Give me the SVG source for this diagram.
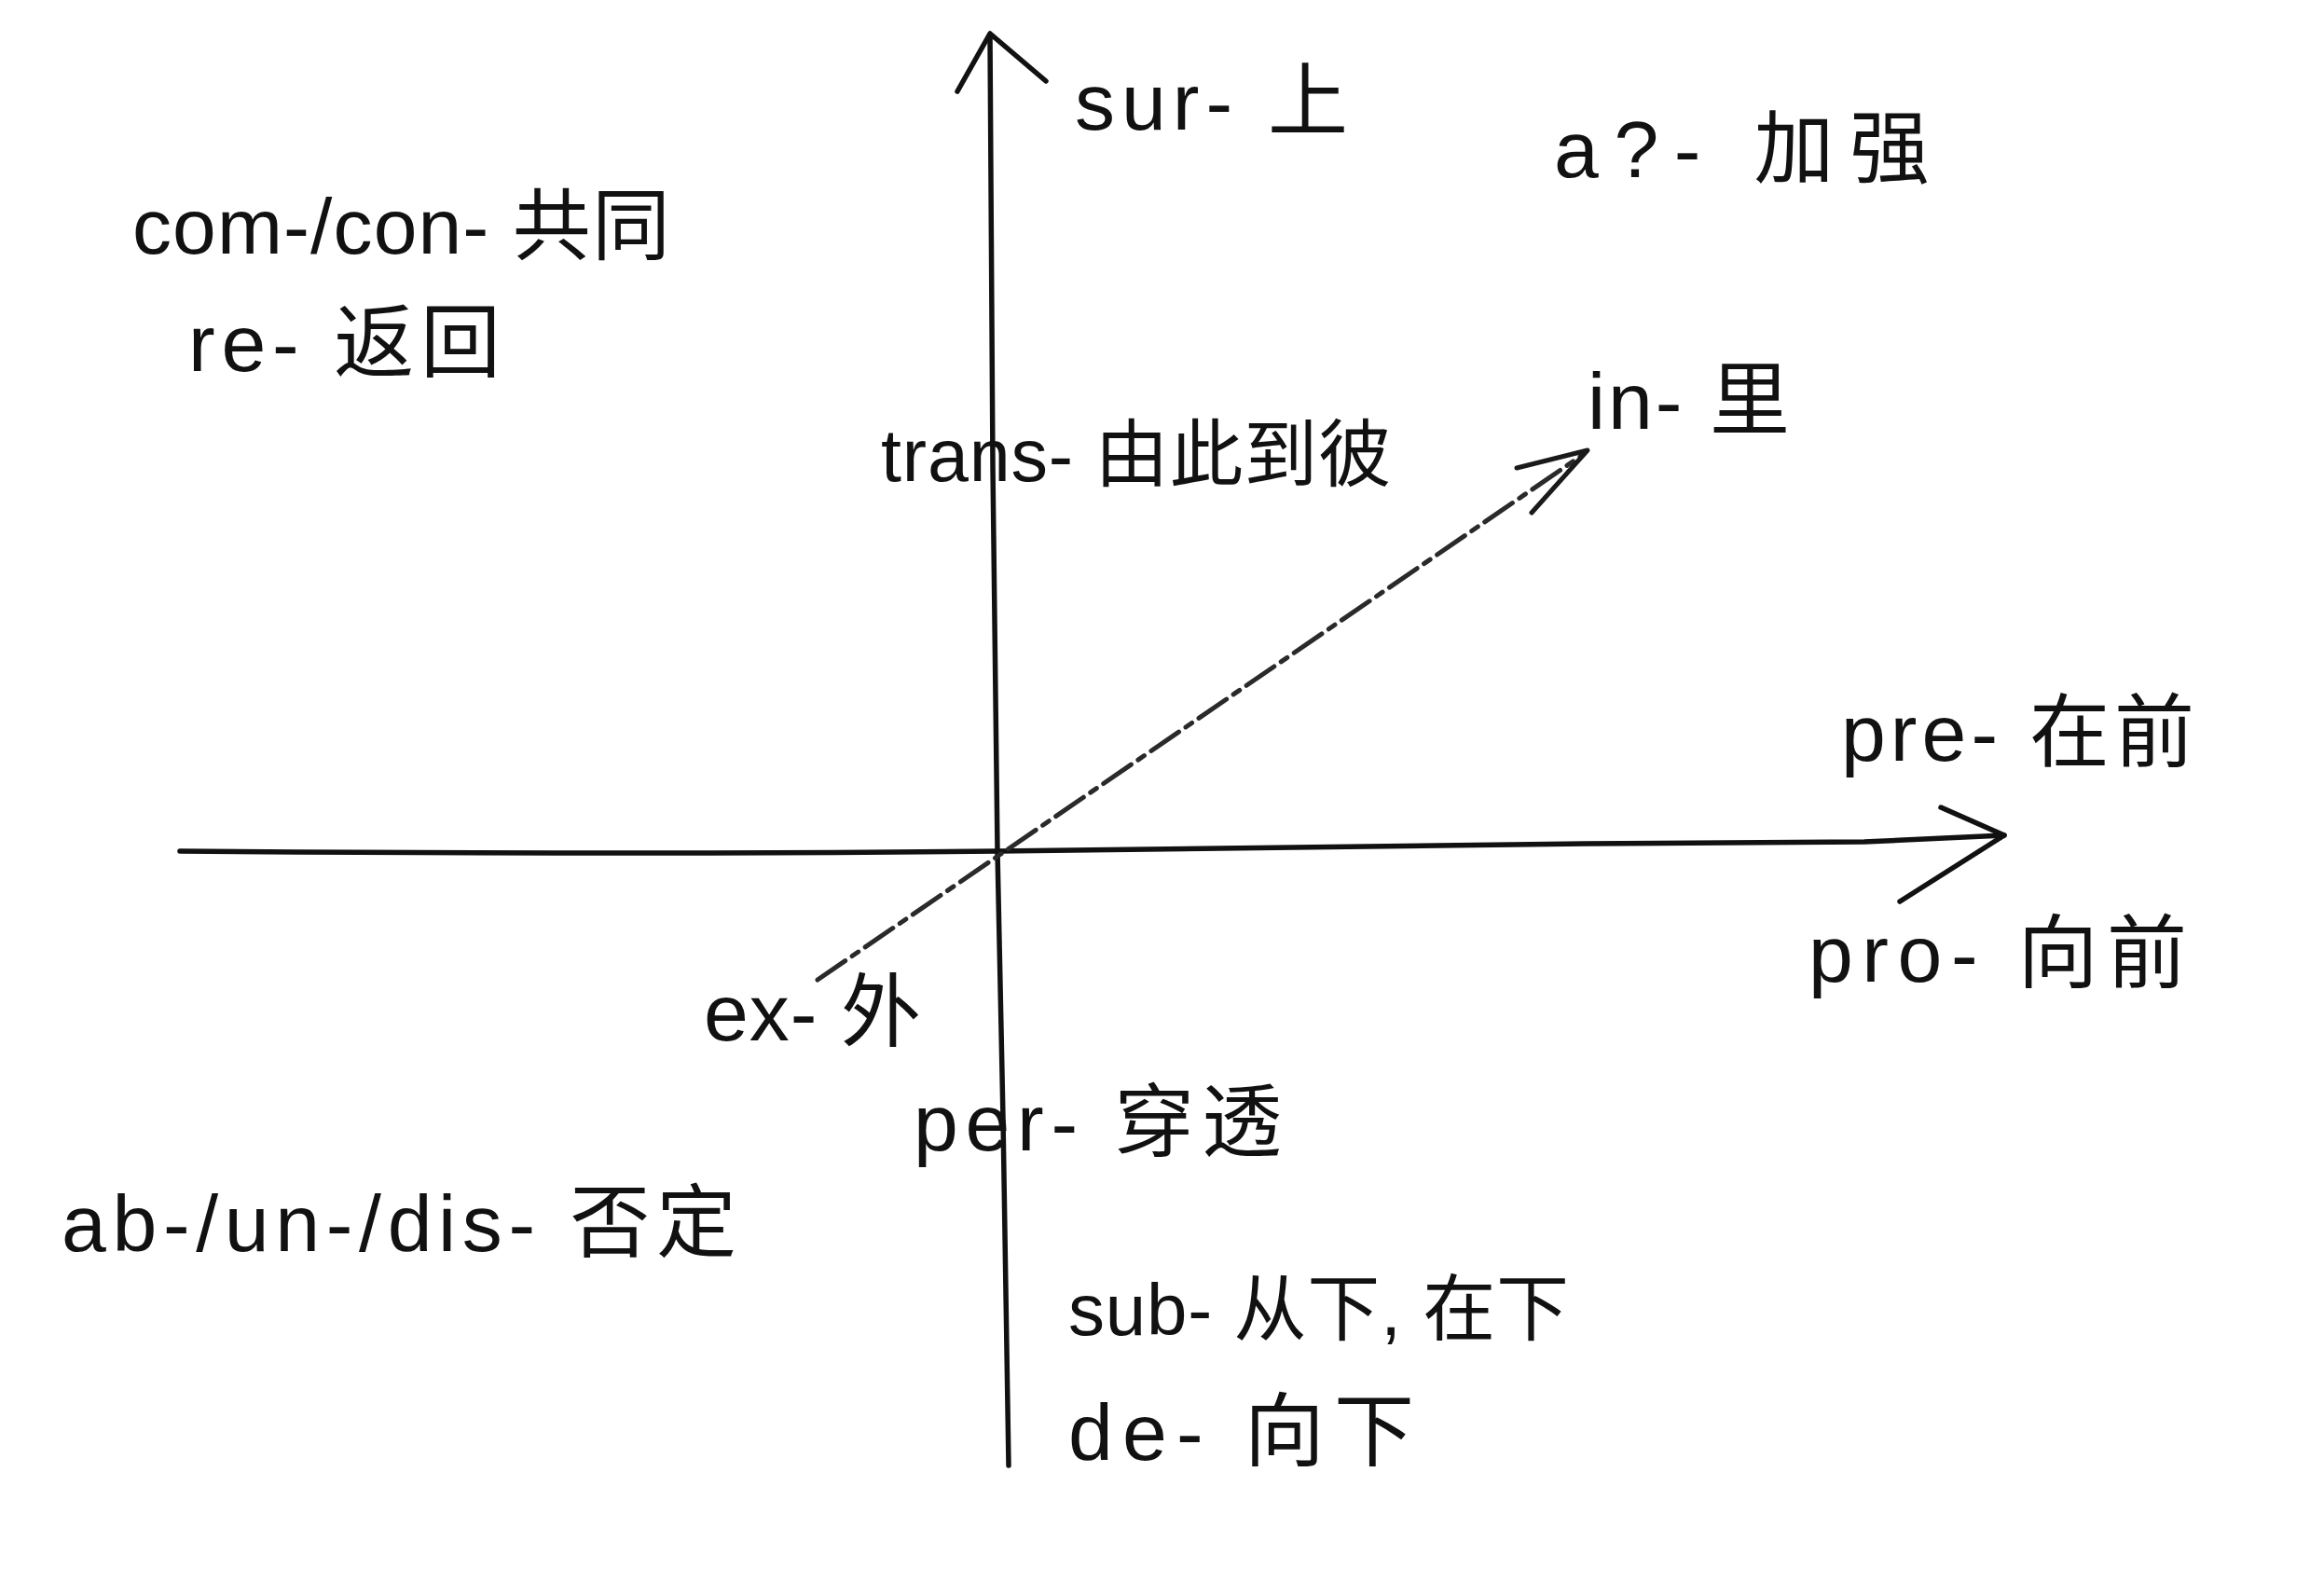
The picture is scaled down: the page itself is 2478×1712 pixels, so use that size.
<svg xmlns="http://www.w3.org/2000/svg" width="2478" height="1712" viewBox="0 0 2478 1712">
<style>
.lbl{font-family:"Liberation Sans","Noto Sans CJK SC",sans-serif;font-size:86px;fill:#111;}
.axis{fill:none;stroke:#111;stroke-width:5.5;stroke-linecap:round;stroke-linejoin:round;}
.dash{fill:none;stroke:#2a2a2a;stroke-width:5;stroke-dasharray:36 9 8 9;stroke-linecap:round;}
.head{fill:none;stroke:#1a1a1a;stroke-width:5;stroke-linecap:round;stroke-linejoin:round;}
</style>
<rect width="2478" height="1712" fill="#ffffff"/>
<g id="connectors">
<path class="axis" d="M1062,38 L1065,500 L1070,913 L1076,1200 L1082,1572"/>
<path class="axis" d="M1027,98 L1062,36 L1122,87"/>
<path class="axis" d="M193,913 C600,916 900,915 1070,913 L1700,905 L2000,903 L2150,896"/>
<path class="axis" d="M2082,866 L2150,896 L2038,967"/>
<path class="dash" d="M877,1051 L1699,487"/>
<path class="head" d="M1627,502 L1703,483 L1643,550"/>
</g>
<g id="node-sur"><text class="lbl" x="1153" y="139" textLength="293" lengthAdjust="spacing">sur- 上</text></g>
<g id="node-a"><text class="lbl" x="1667" y="190" textLength="403" lengthAdjust="spacing">a?- 加强</text></g>
<g id="node-com"><text class="lbl" x="142" y="272" style="font-size:84px" textLength="577" lengthAdjust="spacing">com-/con- 共同</text></g>
<g id="node-re"><text class="lbl" x="202" y="398" textLength="335" lengthAdjust="spacing">re- 返回</text></g>
<g id="node-trans"><text class="lbl" x="945" y="516" style="font-size:79px" textLength="548" lengthAdjust="spacing">trans- 由此到彼</text></g>
<g id="node-in"><text class="lbl" x="1703" y="460" textLength="217" lengthAdjust="spacing">in- 里</text></g>
<g id="node-pre"><text class="lbl" x="1975" y="816" textLength="379" lengthAdjust="spacing">pre- 在前</text></g>
<g id="node-pro"><text class="lbl" x="1940" y="1053" textLength="406" lengthAdjust="spacing">pro- 向前</text></g>
<g id="node-ex"><text class="lbl" x="755" y="1116" textLength="233" lengthAdjust="spacing">ex- 外</text></g>
<g id="node-per"><text class="lbl" x="980" y="1234" textLength="395" lengthAdjust="spacing">per- 穿透</text></g>
<g id="node-ab"><text class="lbl" x="66" y="1342" textLength="724" lengthAdjust="spacing">ab-/un-/dis- 否定</text></g>
<g id="node-sub"><text class="lbl" x="1146" y="1432" style="font-size:78px" textLength="537" lengthAdjust="spacing">sub- 从下, 在下</text></g>
<g id="node-de"><text class="lbl" x="1146" y="1566" textLength="371" lengthAdjust="spacing">de- 向下</text></g>
</svg>
